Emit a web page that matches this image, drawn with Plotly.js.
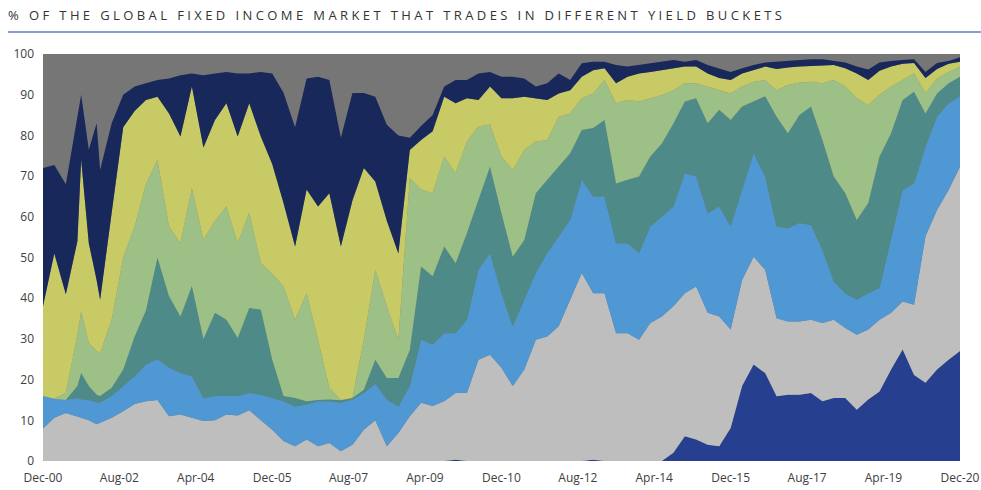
<!DOCTYPE html>
<html>
<head>
<meta charset="utf-8">
<script src="https://cdn.plot.ly/plotly-3.0.1.min.js"></script>
<style>
  html, body { margin: 0; padding: 0; background: #fff; }
  #chart { width: 981px; height: 490px; }
  .gtitle { letter-spacing: 3.4px; }
</style>
</head>
<body>
<div id="chart"></div>
<script>
// mostly quarterly readings, Dec-00 .. Dec-20 (two extra months where spikes show)
var quarters = [
  '2000-12',
  '2001-03','2001-06','2001-09','2001-10','2001-12','2002-02','2002-03','2002-06','2002-09','2002-12',
  '2003-03','2003-06','2003-09','2003-12','2004-03','2004-06','2004-09','2004-12',
  '2005-03','2005-06','2005-09','2005-12','2006-03','2006-06','2006-09','2006-12',
  '2007-03','2007-06','2007-09','2007-12','2008-03','2008-06','2008-09','2008-12',
  '2009-03','2009-06','2009-09','2009-12','2010-03','2010-06','2010-09','2010-12',
  '2011-03','2011-06','2011-09','2011-12','2012-03','2012-06','2012-09','2012-12',
  '2013-03','2013-06','2013-09','2013-12','2014-03','2014-06','2014-09','2014-12',
  '2015-03','2015-06','2015-09','2015-12','2016-03','2016-06','2016-09','2016-12',
  '2017-03','2017-06','2017-09','2017-12','2018-03','2018-06','2018-09','2018-12',
  '2019-03','2019-06','2019-09','2019-12','2020-03','2020-06','2020-09','2020-12'
];

// cumulative upper edge of each yield bucket (% of market), bottom to top
var edgeNeg = [
  0,
  0, 0, 0, 0, 0, 0, 0, 0, 0, 0,
  0, 0, 0, 0, 0, 0, 0, 0,
  0, 0, 0, 0, 0, 0, 0, 0,
  0, 0, 0, 0, 0, 0, 0, 0,
  0, 0, 0, 0.3, 0, 0, 0, 0,
  0, 0, 0, 0, 0, 0, 0, 0.3,
  0, 0, 0, 0, 0, 0, 2, 6.1,
  5.3, 4, 3.6, 8.1, 18.4, 23.7, 21.6, 15.9,
  16.3, 16.3, 16.7, 14.7, 15.5, 15.5, 12.6, 15.1,
  17.1, 22.5, 27.4, 21.1, 19.2, 22.5, 24.9, 27
];
var edgeZeroOne = [
  8,
  10.6, 11.8, 11, 10.6, 10, 9, 9.4, 10.6, 12.2, 14,
  14.7, 15, 11, 11.4, 10.6, 9.8, 10, 11.4,
  11.2, 12.5, 10, 7.7, 4.9, 3.6, 5.3, 3.6,
  4.4, 2.4, 4, 7.7, 10, 3.6, 6.9, 11,
  14.3, 13.5, 14.7, 16.7, 16.7, 24.9, 26.1, 22.9,
  18.4, 22.5, 29.8, 30.6, 33.1, 39.6, 46.2, 41.2,
  41.2, 31.4, 31.4, 29.8, 33.9, 35.5, 38, 41.2,
  42.9, 36.4, 35.5, 32.3, 44.5, 50.2, 47, 35.1,
  34.3, 34.3, 34.7, 33.9, 34.7, 32.7, 31, 32.3,
  34.7, 36.4, 39.2, 38.4, 55.2, 61.7, 66.6, 72.3
];
var edgeOneTwo = [
  16,
  15.3, 15, 15.5, 15.2, 15, 14.4, 14.4, 16, 18.4, 20.8,
  23.7, 25, 23, 21.6, 20.8, 15.5, 16, 16,
  16, 16.7, 16.3, 15.5, 14.7, 13.4, 13.9, 14.7,
  14.7, 14.3, 15.1, 16.7, 19, 15.1, 13.4, 18.4,
  29.8, 28.6, 31.4, 31.4, 34.7, 47, 51.1, 41.2,
  33.1, 39.6, 46.2, 51.1, 55.2, 59.3, 69.1, 65,
  65, 53.5, 53.5, 51.1, 57.6, 60.1, 62.5, 70.7,
  69.9, 60.9, 62.5, 57.6, 66.6, 75.6, 69.9, 57.6,
  57.2, 58.5, 58, 51.9, 44.1, 41.2, 39.6, 41.2,
  42.5, 54.3, 66.6, 68.2, 77.2, 84.6, 87.9, 89.6
];
var edgeTwoThree = [
  16,
  15.3, 15, 18.4, 21.6, 18.4, 16.3, 16, 18, 22.5, 30.6,
  37, 50, 40.5, 35.5, 43, 30, 36.4, 34.7,
  30.2, 37.6, 37.2, 24.9, 16, 15.5, 14.7, 15,
  15.1, 14.9, 15.5, 17.5, 24.9, 20.4, 20.4, 27.3,
  47.8, 45.4, 52.7, 48.6, 56, 64.2, 72.3, 60.9,
  50.2, 54.3, 65.8, 69.1, 72.3, 75.6, 81.3, 81.8,
  83.8, 68.2, 69.1, 69.9, 74.8, 78, 82.9, 88.3,
  89.1, 83, 86.3, 83.8, 87.1, 88.3, 89.6, 84.6,
  80.5, 85, 87.1, 78.9, 69.9, 65.8, 59.2, 63.4,
  74.8, 80.5, 88.7, 90.7, 85.4, 90.3, 92.8, 94.4
];
var edgeThreeFour = [
  16,
  15.3, 16.7, 31, 36.8, 29, 27, 26.5, 34.7, 50, 57.6,
  68, 74, 57.6, 53.5, 67, 54.3, 59, 62.5,
  53.5, 61, 48.6, 46, 42.9, 34.7, 41.2, 29.8,
  18, 15, 15.5, 29.8, 47, 38, 29.8, 69.5,
  66.7, 65.8, 74.8, 70.7, 78.5, 82.2, 82.7, 74.8,
  71.5, 76.4, 78.5, 78.9, 84.6, 85.4, 89.1, 90.3,
  93.6, 87.9, 88.7, 88.3, 89.1, 89.9, 91.1, 92.8,
  92.8, 92, 91.1, 90.3, 92, 93.2, 93.6, 91.1,
  92.4, 93, 93.2, 92.8, 93.6, 92, 89.1, 87.5,
  90, 92, 93.6, 95.3, 90.4, 94, 95.6, 96.9
];
var edgeFourFive = [
  38,
  51, 41, 54, 74, 53.5, 44.5, 39.6, 61, 82, 86,
  88.7, 89.5, 85.4, 79.7, 92, 77, 83.8, 87.9,
  79.7, 87.9, 79.7, 73, 63.4, 52.7, 66.7, 62.5,
  65.8, 52.7, 64, 72, 68.7, 59, 51, 76.4,
  78.9, 81, 89.5, 87.9, 89.1, 88.7, 92, 89.1,
  89.1, 89.5, 89.1, 88.7, 90.3, 91.1, 94.4, 96,
  96.5, 92.8, 94.4, 95.2, 95.6, 96, 96.5, 96.9,
  96.9, 95.2, 94.1, 93.6, 95.2, 96, 96.9, 96.3,
  96.7, 96.9, 97.1, 97.2, 97.3, 96.5, 95.2, 93.6,
  95.9, 96.9, 97.6, 97.8, 94.1, 96.3, 97.6, 98.1
];
var edgeFivePlus = [
  72,
  72.7, 68, 84, 90, 76.5, 83, 71.5, 83, 90, 92,
  92.8, 93.6, 94, 94.8, 95.2, 94.8, 95.2, 95.6,
  95.2, 95.2, 95.6, 95.2, 90.5, 82, 94, 94.4,
  93.6, 79.4, 90.4, 90.4, 89.5, 82.6, 80, 79.4,
  82.3, 85, 92, 93.6, 93.6, 95.2, 95.6, 94.4,
  94.4, 94, 92, 92.8, 95.2, 93.6, 97.7, 98.1,
  98.1, 97.3, 96.9, 97.3, 97.7, 98.1, 98.5, 98.1,
  98.5, 97.3, 96.5, 95.6, 96.5, 97.3, 97.9, 98.1,
  98.3, 98.5, 98.7, 98.7, 98.3, 97.9, 96.9, 96.2,
  97.9, 98.3, 98.5, 98.7, 95.6, 97.8, 98.3, 99.2
];

var bucketNames = ['< 0%', '0-1%', '1-2%', '2-3%', '3-4%', '4-5%', '> 5%'];
var bucketColors = ['#26408f', '#bebebe', '#5098d3', '#4e8b88', '#9cc086', '#c8ca66', '#18285a'];
var edges = [edgeNeg, edgeZeroOne, edgeOneTwo, edgeTwoThree, edgeThreeFour, edgeFourFive, edgeFivePlus];

var data = edges.map(function (ys, i) {
  return {
    x: quarters,
    y: ys,
    name: bucketNames[i],
    type: 'scatter',
    mode: 'lines',
    line: {width: 0, color: bucketColors[i]},
    fill: i == 0 ? 'tozeroy' : 'tonexty',
    fillcolor: bucketColors[i],
    hoverinfo: 'x+y+name'
  };
});

var tickFont = {family: 'Open Sans, sans-serif', size: 12, color: '#404040'};

var layout = {
  width: 981,
  height: 490,
  margin: {l: 43, r: 21, t: 54, b: 29},
  paper_bgcolor: '#ffffff',
  plot_bgcolor: '#767676',   // what's left up to 100%
  showlegend: false,
  title: {
    text: '% OF THE GLOBAL FIXED INCOME MARKET THAT TRADES IN DIFFERENT YIELD BUCKETS',
    font: {family: 'Open Sans, sans-serif', size: 13, color: '#333333'},
    x: 8 / 981,
    xref: 'container',
    xanchor: 'left',
    y: 1 - 15 / 490,
    yref: 'container',
    yanchor: 'middle'
  },
  xaxis: {
    type: 'date',
    range: ['2000-12-01', '2020-12-01'],
    tick0: '2000-12-01',
    dtick: 'M20',
    tickformat: '%b-%y',
    showgrid: false,
    zeroline: false,
    showline: false,
    ticks: '',
    ticklabelstandoff: 8,
    tickfont: tickFont
  },
  yaxis: {
    range: [0, 100],
    dtick: 10,
    showgrid: false,
    zeroline: false,
    showline: false,
    ticks: '',
    ticklabelstandoff: 8,
    tickfont: tickFont
  },
  shapes: [{
    type: 'line',
    xref: 'paper', yref: 'paper',
    x0: -35 / 917, x1: 938 / 917,
    y0: 429 / 407, y1: 429 / 407,
    line: {color: '#5a80c0', width: 1.5}
  }]
};

Plotly.newPlot('chart', data, layout, {displayModeBar: false, staticPlot: true});
</script>
</body>
</html>
